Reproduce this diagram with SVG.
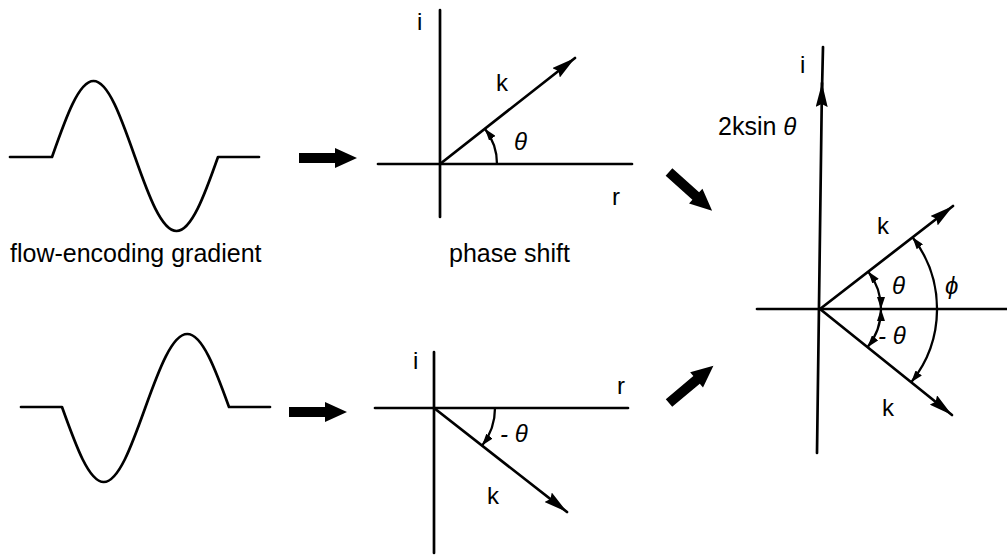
<svg xmlns="http://www.w3.org/2000/svg" width="1007" height="557" viewBox="0 0 1007 557">
<style>
.ln{fill:none;stroke:#000;stroke-width:2.7;stroke-linecap:round;stroke-linejoin:round}
.arc{fill:none;stroke:#000;stroke-width:2.3}
.t{font-family:"Liberation Sans",Arial,Helvetica,sans-serif;font-size:25px;fill:#000}
.s{font-family:"Liberation Sans",Arial,Helvetica,sans-serif;font-size:24px;fill:#000}
.g{font-family:"Liberation Sans",Arial,Helvetica,sans-serif;font-size:24px;font-style:italic;fill:#000}
.fat{fill:#000}
</style>
<defs>
<marker id="ah" viewBox="0 0 24 12" refX="24" refY="6" markerWidth="24" markerHeight="12" orient="auto" markerUnits="userSpaceOnUse"><path d="M0,0 L24,6 L0,12 L3,6 Z" fill="#000"/></marker>
<marker id="sh" viewBox="0 0 12 8" refX="12" refY="4" markerWidth="12" markerHeight="8" orient="auto-start-reverse" markerUnits="userSpaceOnUse"><path d="M0,0 L12,4 L0,8 Z" fill="#000"/></marker>
<path id="fat" d="M0,-5 L36,-5 L36,-10 L58,0 L36,10 L36,5 L0,5 Z"/>
</defs>

<g id="wave-top">
<path class="ln" d="M10,157 L52,157 C65.49,118.7 78.56,81 93.5,81 C108.44,81 121.51,118.7 135,157 C148.49,195.3 161.56,231 176.5,231 C191.44,231 204.51,195.3 218,157 L259,157"/>
</g>
<g id="wave-bottom">
<path class="ln" d="M21,407 L62,407 C75.57,444.8 88.72,482 103.75,482 C118.78,482 131.93,444.8 145.5,407 C159.07,369.2 172.22,334 187.25,334 C202.28,334 215.43,369.2 229,407 L270,407"/>
</g>
<g id="label-gradient"><text class="t" x="10" y="262">flow-encoding gradient</text></g>
<g id="label-phase"><text class="t" x="449" y="262">phase shift</text></g>

<g id="phasor-top">
<path class="ln" d="M440,10 L440,217"/>
<path class="ln" d="M378,164 L632,164"/>
<path class="ln" d="M440,164 L575,58" marker-end="url(#ah)"/>
<path class="arc" d="M497,164 A57,57 0 0 0 484.9,128.8" marker-end="url(#sh)"/>
<text class="s" x="417" y="30">i</text>
<text class="s" x="496" y="91">k</text>
<text class="g" x="514" y="150">θ</text>
<text class="s" x="612" y="205">r</text>
</g>

<g id="phasor-bottom">
<path class="ln" d="M434,352 L434,553"/>
<path class="ln" d="M375,408 L628,408"/>
<path class="ln" d="M434,408 L567,512" marker-end="url(#ah)"/>
<path class="arc" d="M495,408 A61,61 0 0 1 482.1,445.6" marker-end="url(#sh)"/>
<text class="s" x="413" y="369">i</text>
<text class="s" x="617" y="394">r</text>
<text class="g" x="500" y="442">- θ</text>
<text class="s" x="487" y="504">k</text>
</g>

<g id="phasor-sum">
<path class="ln" d="M817,453 L822,83" marker-end="url(#ah)"/>
<path class="ln" d="M822,90 L823,47"/>
<path class="ln" d="M757,309 L1007,309"/>
<path class="ln" d="M820,309 L953,206" marker-end="url(#ah)"/>
<path class="ln" d="M820,309 L952,415" marker-end="url(#ah)"/>
<path class="arc" d="M881,309 A61,61 0 0 0 868.2,271.6" marker-start="url(#sh)" marker-end="url(#sh)"/>
<path class="arc" d="M881,309 A61,61 0 0 1 867.5,347.2" marker-start="url(#sh)" marker-end="url(#sh)"/>
<path class="arc" d="M912.5,237.3 A117,117 0 0 1 911.2,382.3" marker-start="url(#sh)" marker-end="url(#sh)"/>
<text class="s" x="800" y="73">i</text>
<text class="t" x="718" y="135">2ksin <tspan class="g">θ</tspan></text>
<text class="s" x="877" y="234">k</text>
<text class="g" x="892" y="294">θ</text>
<text class="g" x="945" y="294">ϕ</text>
<text class="g" x="878" y="344">- θ</text>
<text class="s" x="882" y="416">k</text>
</g>

<g id="connectors">
<use href="#fat" class="fat" transform="translate(299,158)"/>
<use href="#fat" class="fat" transform="translate(289,412)"/>
<use href="#fat" class="fat" transform="translate(669,172) rotate(42)"/>
<use href="#fat" class="fat" transform="translate(669,403) rotate(-40)"/>
</g>
</svg>
